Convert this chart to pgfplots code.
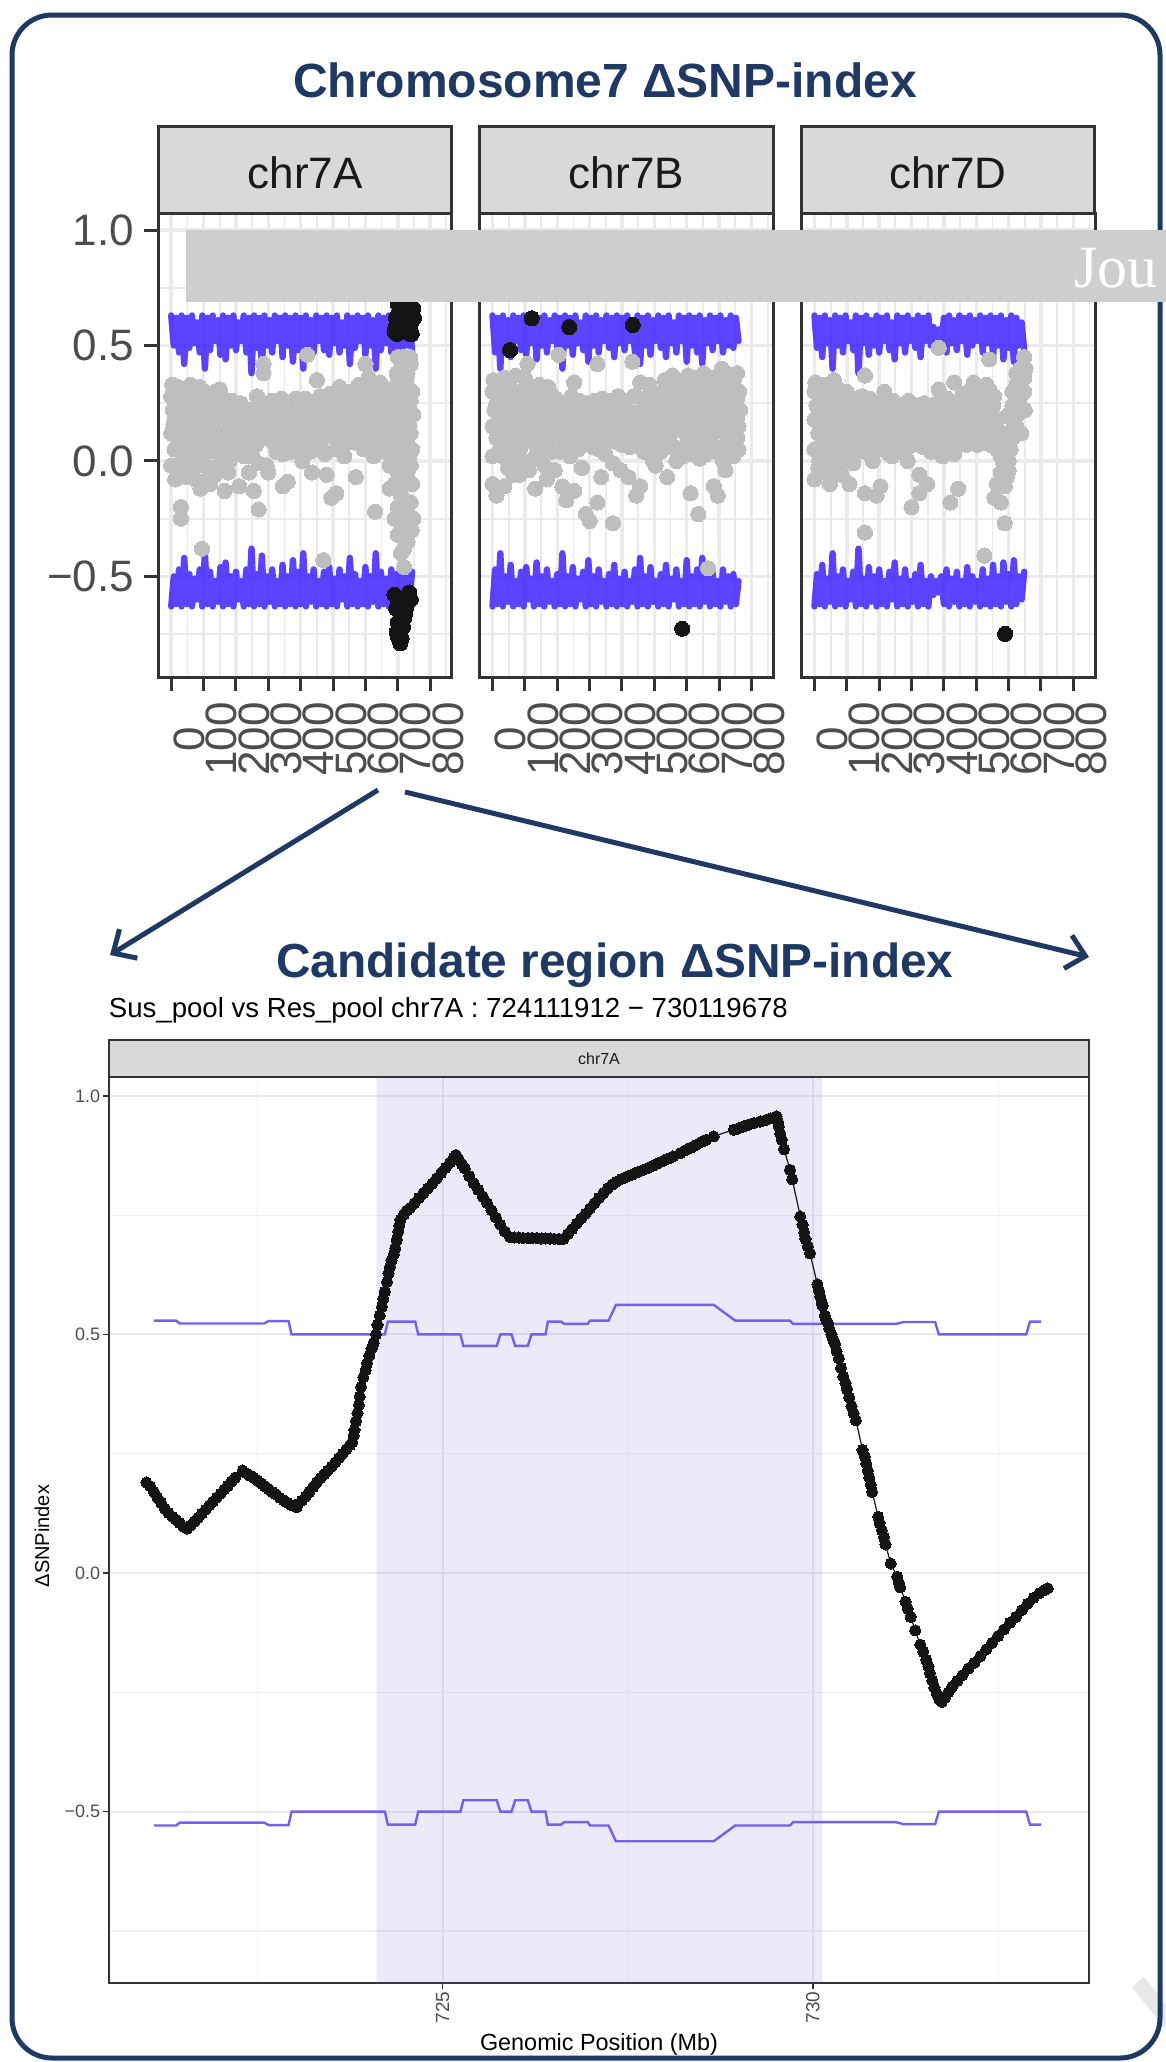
\documentclass[border=0pt]{standalone}
\usepackage{pgfplots}
\usepackage{pgfplotstable}
\pgfplotsset{compat=1.18}
\usepackage{fontspec}
\setmainfont{Liberation Sans}
\newfontfamily\jouserif{Liberation Serif}
\usetikzlibrary{arrows.meta}
\definecolor{navy}{RGB}{31,56,100}
\definecolor{tickgray}{RGB}{77,77,77}
\definecolor{gridgray}{RGB}{235,235,235}
\definecolor{stripgray}{RGB}{217,217,217}
\definecolor{bordercol}{RGB}{51,51,51}
\definecolor{ptgray}{RGB}{190,190,190}
\definecolor{ptblack}{RGB}{20,20,20}
\definecolor{bandblue}{RGB}{50,20,255}
\definecolor{thrcol}{RGB}{115,95,240}
\definecolor{shadecol}{RGB}{100,80,200}
\definecolor{bannergray}{RGB}{205,206,208}
\definecolor{wmgray}{RGB}{232,232,232}

% threshold band of each chromosome (upper side; lower side is its mirror)
\pgfplotstableread[row sep=\\]{x y\\
0 .63\\ 8 .50\\ 16 .62\\ 24 .47\\ 32 .63\\ 40 .42\\ 48 .62\\ 56 .49\\ 64 .63\\ 72 .51\\ 80 .60\\ 88 .47\\ 96 .63\\ 104 .40\\ 112 .62\\ 120 .48\\ 128 .63\\ 136 .52\\ 144 .61\\ 152 .46\\ 160 .63\\ 168 .44\\ 176 .62\\ 184 .50\\ 192 .63\\ 200 .48\\ 208 .60\\ 216 .52\\ 224 .63\\ 232 .47\\ 240 .62\\ 248 .38\\ 256 .63\\ 264 .49\\ 272 .62\\ 280 .41\\ 288 .63\\ 296 .50\\ 304 .61\\ 312 .47\\ 320 .63\\ 328 .52\\ 336 .62\\ 344 .45\\ 352 .63\\ 360 .50\\ 368 .62\\ 376 .43\\ 384 .63\\ 392 .48\\ 400 .62\\ 408 .40\\ 416 .63\\ 424 .50\\ 432 .61\\ 440 .47\\ 448 .63\\ 456 .52\\ 464 .62\\ 472 .48\\ 480 .63\\ 488 .46\\ 496 .62\\ 504 .51\\ 512 .63\\ 520 .47\\ 528 .60\\ 536 .50\\ 544 .63\\ 552 .42\\ 560 .62\\ 568 .49\\ 576 .63\\ 584 .52\\ 592 .62\\ 600 .46\\ 608 .63\\ 616 .50\\ 624 .61\\ 632 .40\\ 640 .63\\ 648 .48\\ 656 .62\\ 664 .51\\ 672 .63\\ 680 .47\\ 688 .62\\ 696 .49\\ 704 .63\\ 712 .45\\ 720 .62\\ 728 .50\\ 736 .60\\ 744 .48\\
}\bandA
\pgfplotstableread[row sep=\\]{x y\\
0 .63\\ 8 .47\\ 16 .62\\ 24 .40\\ 32 .63\\ 40 .50\\ 48 .61\\ 56 .45\\ 64 .63\\ 72 .52\\ 80 .62\\ 88 .48\\ 96 .63\\ 104 .46\\ 112 .60\\ 120 .51\\ 128 .63\\ 136 .44\\ 144 .62\\ 152 .50\\ 160 .63\\ 168 .47\\ 176 .61\\ 184 .52\\ 192 .63\\ 200 .49\\ 208 .62\\ 216 .40\\ 224 .63\\ 232 .50\\ 240 .62\\ 248 .46\\ 256 .63\\ 264 .51\\ 272 .60\\ 280 .48\\ 288 .63\\ 296 .43\\ 304 .62\\ 312 .50\\ 320 .63\\ 328 .47\\ 336 .61\\ 344 .52\\ 352 .63\\ 360 .49\\ 368 .62\\ 376 .45\\ 384 .63\\ 392 .51\\ 400 .62\\ 408 .48\\ 416 .63\\ 424 .52\\ 432 .61\\ 440 .47\\ 448 .63\\ 456 .42\\ 464 .62\\ 472 .50\\ 480 .63\\ 488 .46\\ 496 .61\\ 504 .52\\ 512 .63\\ 520 .49\\ 528 .62\\ 536 .45\\ 544 .63\\ 552 .51\\ 560 .60\\ 568 .47\\ 576 .63\\ 584 .52\\ 592 .62\\ 600 .43\\ 608 .63\\ 616 .50\\ 624 .62\\ 632 .47\\ 640 .63\\ 648 .42\\ 656 .61\\ 664 .51\\ 672 .63\\ 680 .48\\ 688 .62\\ 696 .52\\ 704 .63\\ 712 .47\\ 720 .61\\ 728 .50\\ 736 .63\\ 744 .49\\ 752 .62\\ 760 .52\\
}\bandB
\pgfplotstableread[row sep=\\]{x y\\
0 .63\\ 8 .49\\ 16 .62\\ 24 .45\\ 32 .63\\ 40 .51\\ 48 .61\\ 56 .40\\ 64 .63\\ 72 .50\\ 80 .62\\ 88 .47\\ 96 .63\\ 104 .52\\ 112 .60\\ 120 .48\\ 128 .63\\ 136 .38\\ 144 .62\\ 152 .51\\ 160 .63\\ 168 .46\\ 176 .61\\ 184 .50\\ 192 .63\\ 200 .47\\ 208 .62\\ 216 .52\\ 224 .63\\ 232 .48\\ 240 .60\\ 248 .44\\ 256 .63\\ 264 .51\\ 272 .62\\ 280 .47\\ 288 .63\\ 296 .52\\ 304 .61\\ 312 .49\\ 320 .63\\ 328 .45\\ 336 .62\\ 344 .52\\ 352 .63\\ 360 .50\\ 368 .58\\ 376 .52\\ 384 .57\\ 392 .50\\ 400 .62\\ 408 .47\\ 416 .63\\ 424 .51\\ 432 .61\\ 440 .48\\ 448 .63\\ 456 .52\\ 464 .62\\ 472 .46\\ 480 .63\\ 488 .50\\ 496 .61\\ 504 .52\\ 512 .63\\ 520 .47\\ 528 .62\\ 536 .51\\ 544 .63\\ 552 .45\\ 560 .62\\ 568 .50\\ 576 .63\\ 584 .44\\ 592 .61\\ 600 .49\\ 608 .63\\ 616 .43\\ 624 .62\\ 632 .50\\ 640 .60\\ 648 .48\\
}\bandD
% threshold of the candidate region (upper side; lower side is its mirror)
\pgfplotstableread[row sep=\\]{x y\\
721.10 0.529\\ 721.40 0.529\\ 721.45 0.523\\ 722.59 0.523\\ 722.65 0.528\\ 722.92 0.528\\ 722.96 0.500\\ 724.22 0.500\\ 724.26 0.527\\ 724.63 0.527\\ 724.67 0.500\\ 725.24 0.500\\ 725.28 0.476\\ 725.73 0.476\\ 725.78 0.500\\ 725.93 0.500\\ 725.98 0.476\\ 726.15 0.476\\ 726.20 0.500\\ 726.39 0.500\\ 726.42 0.527\\ 726.60 0.527\\ 726.64 0.522\\ 726.96 0.522\\ 726.99 0.529\\ 727.24 0.529\\ 727.34 0.562\\ 728.66 0.562\\ 728.95 0.529\\ 729.69 0.529\\ 729.73 0.522\\ 731.12 0.522\\ 731.22 0.526\\ 731.65 0.526\\ 731.70 0.500\\ 732.88 0.500\\ 732.93 0.527\\ 733.08 0.527\\
}\thr

\pgfplotsset{
  toppanel/.style={
    scale only axis, width=146.75pt, height=232pt, anchor=south west,
    xmin=-40, xmax=867, ymin=-0.936, ymax=1.074,
    axis line style={draw=bordercol, line width=1.5pt},
    xtick={0,100,...,800}, minor xtick={50,150,...,850},
    ytick={-0.5,0,0.5,1}, minor ytick={-0.75,-0.25,0.25,0.75},
    grid=both,
    major grid style={draw=gridgray, line width=1.75pt},
    minor grid style={draw=gridgray, line width=0.9pt},
    tick align=outside, xtick pos=left, ytick pos=left,
    major tick length=7pt, minor tick length=0pt,
    tick style={draw=bordercol, line width=1.5pt},
    xticklabels={0,100,200,300,400,500,600,700,800},
    xticklabel style={font=\fontsize{22pt}{22pt}\selectfont, text=tickgray, inner sep=0pt, anchor=center, xshift=9pt, yshift=-24pt, rotate=90},
    yticklabel style={font=\fontsize{22pt}{22pt}\selectfont, text=tickgray, inner sep=0pt, xshift=-5pt},
  },
  graypts/.style={only marks, color=ptgray, mark=*, mark size=3.8pt, mark options={draw=ptgray, fill=ptgray, line width=0pt}},
  blackpts/.style={only marks, color=ptblack, mark=*, mark size=3.8pt, mark options={draw=ptblack, fill=ptblack, line width=0pt}},
  band/.style={draw=bandblue, draw opacity=0.8, line width=3.2pt, line join=round, line cap=round},
}

\begin{document}
\begin{tikzpicture}
\path[use as bounding box] (0,0) rectangle (583pt,-1031pt);
\begin{scope}[x=0.5pt,y=-0.5pt]
  \draw[line width=8pt, color=wmgray] (1138,1982) -- (1178,2032);
  \draw[navy, line width=2.5pt, rounded corners=20pt] (12,15) rectangle (1160,2058);
  \node[anchor=base, text=navy, font=\bfseries\fontsize{24pt}{24pt}\selectfont] at (605,97) {Chromosome7 ΔSNP-index};
  \foreach \xa/\lab in {158.3/chr7A, 479.6/chr7B, 801/chr7D} {
    \draw[fill=stripgray, draw=bordercol, line width=1.5pt] (\xa,126) rectangle ({\xa+293.5},213);
    \node[anchor=base, text=black!90, font=\fontsize{22pt}{22pt}\selectfont] at ({\xa+146.75},188) {\lab};
  }
\end{scope}

% ---------- chr7A ----------
\begin{axis}[toppanel, at={(79.15pt,-338.5pt)},
  yticklabels={−0.5,0.0,0.5,1.0}]
\addplot[graypts] coordinates {(0,.28)(0,.12)(0,-.02)(5,.22)(10,.31)(10,.18)(10,.05)(15,.05)(20,.22)(20,.10)(20,-.06)(25,.26)(30,.30)(30,.15)(30,-.20)(30,-.25)(38,.20)(45,.26)(45,.08)(45,-.03)(52,.14)(60,.33)(60,.20)(60,.02)(68,.09)(75,.24)(75,.13)(75,-.08)(82,.19)(90,.29)(90,.06)(90,-.12)(98,.23)(105,.21)(105,.15)(105,-.02)(112,.04)(120,.27)(120,.10)(120,-.10)(128,.16)(135,.18)(135,.04)(135,-.06)(142,.24)(150,.25)(150,.12)(150,.31)(158,.02)(165,.20)(165,.07)(165,-.13)(172,.11)(180,.16)(180,.22)(180,.00)(188,.26)(195,.12)(195,.19)(195,.05)(210,.17)(210,.09)(210,-.11)(225,.14)(225,.21)(225,.02)(240,.18)(240,.11)(240,-.05)(255,.20)(255,.13)(255,-.13)(270,.24)(270,.15)(270,-.21)(270,-.01)(285,.19)(285,.10)(285,.38)(285,.42)(300,.17)(300,.23)(300,-.05)(315,.14)(315,.20)(315,.08)(330,.18)(330,.12)(345,.15)(345,.21)(345,.03)(345,-.11)(360,.13)(360,.19)(360,-.09)(375,.16)(375,.10)(390,.20)(390,.14)(390,.06)(405,.12)(405,.18)(405,.00)(420,.15)(420,.22)(420,.46)(435,.10)(435,.17)(435,-.05)(450,.19)(450,.13)(450,.35)(465,.16)(465,.24)(465,.06)(480,.12)(480,.20)(480,-.06)(495,.18)(495,.26)(495,-.16)(510,.14)(510,.22)(510,.05)(510,-.14)(525,.20)(525,.27)(525,.11)(540,.16)(540,.24)(540,.08)(555,.21)(555,.30)(555,.12)(570,.18)(570,.25)(570,-.07)(585,.15)(585,.22)(585,.09)(600,.20)(600,.28)(600,.13)(600,.42)(615,.17)(615,.32)(615,.10)(630,.21)(630,.26)(630,.07)(630,-.22)(645,.18)(645,.34)(645,.12)(660,.22)(660,.15)(660,.04)(675,.25)(675,.17)(675,-.02)(675,-.12)(690,.20)(690,.30)(690,.05)(690,-.10)(690,-.25)(700,.45)(700,.35)(700,.25)(700,.10)(700,-.05)(700,-.20)(700,-.32)(705,.32)(705,-.12)(710,.40)(710,.28)(710,.15)(710,.00)(710,-.15)(710,-.30)(710,-.40)(715,.22)(715,-.05)(720,.44)(720,.30)(720,.18)(720,.05)(720,-.10)(720,-.25)(720,-.38)(720,-.46)(725,.12)(725,-.30)(730,.38)(730,.22)(730,.08)(730,-.05)(730,-.20)(730,-.35)(735,.02)(735,-.28)(740,.42)(740,.26)(740,.12)(740,-.02)(740,-.18)(745,.30)(745,.05)(745,-.10)(748,.20)(748,-.25)(95,-.38)(470,-.43)
(7,.16)(17,.26)(27,.08)(37,.02)(42,.30)(55,.24)(65,-.04)(72,.28)(85,.01)(95,.15)(102,.30)(115,.21)(125,-.03)(132,.26)(145,.09)(155,.19)(162,.27)(176,-.05)(185,.14)(200,.24)(205,.03)(218,.16)(232,.08)(247,.22)(262,.07)(278,.20)(292,.15)(308,.10)(322,.24)(338,.16)(352,.09)(368,.22)(382,.13)(398,.23)(412,.08)(428,.19)(442,.25)(458,.09)(472,.17)(488,.14)(502,.21)(518,.17)(532,.22)(548,.19)(562,.16)(578,.29)(592,.18)(608,.24)(622,.15)(638,.22)(652,.27)(668,.20)(682,.12)(695,.15)(703,.00)(713,.35)(723,-.18)(733,.30)(743,-.30)(736,.15)(715,.10)
(3,.33)(12,-.08)(22,.32)(33,.10)(48,-.07)(58,.29)(70,.18)(80,-.02)(88,.32)(100,.09)(110,.25)(118,-.06)(138,.30)(148,-.01)(168,.24)(190,.09)(215,.25)(235,.14)(250,.02)(265,.28)(280,.12)(295,-.02)(310,.26)(325,.04)(340,.27)(355,.18)(370,.04)(385,.27)(400,.07)(415,.27)(430,.04)(445,.20)(460,.28)(475,.03)(490,.29)(505,.10)(520,.32)(535,.02)(550,.26)(565,.08)(580,.33)(595,.05)(610,.36)(625,.02)(640,.29)(655,.09)(670,.31)(685,.24)(697,.38)(706,.20)(716,.45)(726,.35)(738,.45)};
\addplot[blackpts] coordinates {(690,.56)(695,.62)(700,.68)(705,.72)(708,.60)(710,.78)(715,.85)(718,.66)(720,.90)(725,.93)(728,.62)(730,.95)(735,.90)(738,.55)(740,.82)(742,.60)(745,.74)(748,.66)(693,.58)(698,.55)(703,.64)(713,.70)(723,.58)(733,.68)(743,.55)(750,.62)
(690,-.58)(695,-.64)(700,-.70)(700,-.60)(705,-.76)(708,-.79)(710,-.66)(712,-.77)(716,-.72)(720,-.68)(725,-.64)(730,-.60)(735,-.57)(703,-.62)(713,-.70)(718,-.60)(723,-.66)(706,-.70)(700,-.76)(740,-.60)(697,-.74)};
\addplot[band] table {\bandA};
\addplot[band] table[y expr=-\thisrow{y}] {\bandA};
\end{axis}

% ---------- chr7B ----------
\begin{axis}[toppanel, at={(239.8pt,-338.5pt)}, yticklabels={}, ytick style={draw=none}]
\addplot[graypts] coordinates {(0,.30)(0,.15)(0,.02)(0,-.10)(12,.25)(12,.10)(12,-.15)(24,.33)(24,.18)(24,.05)(36,.22)(36,.12)(36,-.11)(36,.36)(48,.28)(48,.08)(48,-.03)(60,.20)(60,.16)(60,.02)(72,.26)(72,.11)(72,.37)(84,.18)(84,.05)(84,-.06)(96,.24)(96,.14)(96,.31)(108,.30)(108,.09)(108,.42)(120,.21)(120,.16)(120,.00)(132,.27)(132,.12)(132,-.12)(144,.19)(144,.07)(144,.33)(156,.23)(156,.15)(156,.03)(168,.17)(168,.10)(168,-.08)(180,.22)(180,.13)(180,.29)(192,.15)(192,.19)(192,-.04)(204,.20)(204,.11)(204,.46)(216,.14)(216,.18)(216,-.11)(228,.19)(228,.09)(228,-.17)(240,.16)(240,.22)(240,.02)(252,.12)(252,.18)(252,.34)(252,-.13)(264,.17)(264,.10)(264,.05)(276,.14)(276,.21)(276,-.03)(288,.18)(288,.12)(288,-.23)(300,.15)(300,.20)(300,-.26)(312,.13)(312,.17)(312,.06)(324,.16)(324,.11)(324,.42)(324,-.18)(336,.20)(336,.14)(336,-.07)(348,.17)(348,.12)(348,.03)(360,.14)(360,.19)(360,.26)(372,.18)(372,.10)(372,-.01)(372,-.27)(384,.15)(384,.22)(384,.08)(396,.19)(396,.13)(396,-.04)(408,.16)(408,.11)(408,.21)(420,.20)(420,.14)(420,-.07)(432,.17)(432,.12)(432,.43)(444,.13)(444,.18)(444,-.15)(456,.18)(456,.10)(456,.34)(456,-.11)(468,.15)(468,.21)(468,.04)(480,.19)(480,.12)(480,.27)(492,.16)(492,.23)(492,.06)(504,.20)(504,.13)(504,-.02)(516,.17)(516,.25)(516,.09)(528,.21)(528,.14)(528,.30)(540,.18)(540,.24)(540,-.07)(552,.22)(552,.12)(552,.31)(564,.17)(564,.26)(564,.06)(576,.21)(576,.14)(576,.28)(588,.16)(588,.23)(588,.02)(600,.20)(600,.30)(600,.11)(600,.34)(612,.17)(612,.25)(612,-.14)(624,.22)(624,.13)(624,.29)(636,.18)(636,.27)(636,.05)(636,-.23)(648,.21)(648,.12)(648,.32)(660,.16)(660,.25)(660,.03)(672,.20)(672,.29)(672,.10)(684,.17)(684,.24)(684,.33)(684,-.11)(696,.22)(696,.13)(696,.28)(696,-.15)(708,.18)(708,.26)(708,.06)(708,.40)(720,.21)(720,.31)(720,.12)(720,-.04)(732,.17)(732,.25)(732,.35)(744,.22)(744,.14)(744,.29)(744,.02)(756,.19)(756,.27)(756,.10)(756,.38)(666,-.465)
(6,.22)(18,.20)(30,.12)(42,.17)(54,.24)(66,.09)(78,.18)(90,.27)(102,.15)(114,.20)(126,.08)(138,.22)(150,.14)(162,.26)(174,.06)(186,.17)(198,.14)(210,.22)(222,.12)(234,.15)(246,.09)(258,.14)(270,.19)(282,.15)(294,.12)(306,.17)(318,.14)(330,.20)(342,.10)(354,.16)(366,.13)(378,.17)(390,.15)(402,.20)(414,.13)(426,.16)(438,.21)(450,.15)(462,.11)(474,.17)(486,.19)(498,.14)(510,.22)(522,.18)(534,.11)(546,.20)(558,.27)(570,.17)(582,.24)(594,.13)(606,.22)(618,.19)(630,.08)(642,.24)(654,.18)(666,.22)(678,.14)(690,.20)(702,.16)(714,.23)(726,.19)(738,.09)(750,.22)(760,.15)(762,.30)
(3,.35)(15,.03)(27,.27)(40,.01)(52,.32)(64,-.06)(76,.29)(88,.00)(100,.36)(112,-.04)(124,.31)(136,.03)(148,.27)(160,-.02)(172,.32)(184,.04)(196,.27)(208,.04)(220,.25)(232,.06)(244,.28)(256,.05)(268,.26)(280,.08)(292,.25)(304,.07)(316,.26)(328,.05)(340,.27)(352,.08)(364,.23)(376,.09)(388,.28)(400,.07)(412,.26)(424,.06)(436,.28)(448,.08)(460,.27)(472,.09)(484,.33)(496,.00)(508,.29)(520,.04)(532,.35)(544,.06)(556,.37)(568,.00)(580,.34)(592,.06)(604,.37)(616,.03)(628,.36)(640,.01)(652,.38)(664,.06)(676,.36)(688,.04)(700,.34)(712,.00)(724,.38)(736,.03)(748,.36)(760,.05)(765,.22)};
\addplot[blackpts] coordinates {(121,.618)(54,.48)(237,.58)(433,.589)(586,-.727)};
\addplot[band] table {\bandB};
\addplot[band] table[y expr=-\thisrow{y}] {\bandB};
\end{axis}

% ---------- chr7D ----------
\begin{axis}[toppanel, at={(400.75pt,-338.5pt)}, yticklabels={}, ytick style={draw=none}]
\addplot[graypts] coordinates {(0,.30)(0,.18)(0,.05)(0,-.08)(12,.25)(12,.12)(12,-.03)(24,.33)(24,.20)(24,.08)(36,.22)(36,.14)(36,.00)(48,.28)(48,.10)(48,-.10)(60,.35)(60,.19)(60,.05)(60,.01)(72,.24)(72,.15)(72,-.02)(84,.29)(84,.11)(84,-.06)(96,.21)(96,.17)(96,.03)(108,.26)(108,.08)(108,-.10)(120,.19)(120,.14)(120,-.01)(132,.23)(132,.10)(132,.04)(144,.17)(144,.20)(144,.07)(156,.21)(156,.13)(156,.37)(156,-.14)(156,-.31)(168,.15)(168,.18)(168,.03)(180,.20)(180,.11)(180,.00)(192,.17)(192,.08)(192,-.15)(204,.22)(204,.14)(204,-.11)(216,.18)(216,.10)(216,.30)(228,.15)(228,.19)(228,.06)(240,.20)(240,.12)(240,.02)(252,.17)(252,.09)(252,.24)(264,.14)(264,.19)(264,.05)(276,.18)(276,.11)(276,.08)(288,.15)(288,.21)(288,.00)(300,.19)(300,.13)(300,-.20)(312,.16)(312,.10)(312,.22)(324,.14)(324,.18)(324,-.06)(324,-.14)(336,.19)(336,.12)(336,.06)(348,.16)(348,.22)(348,-.10)(360,.13)(360,.18)(360,.04)(372,.17)(372,.10)(372,.08)(384,.14)(384,.20)(384,.49)(384,.31)(396,.18)(396,.12)(396,.02)(408,.15)(408,.22)(408,.07)(420,.19)(420,.11)(420,-.18)(432,.16)(432,.20)(432,.34)(432,.03)(444,.13)(444,.18)(444,-.12)(456,.17)(456,.24)(456,.09)(468,.20)(468,.14)(468,.26)(480,.16)(480,.23)(480,.08)(492,.21)(492,.13)(492,.34)(504,.18)(504,.26)(504,.07)(516,.22)(516,.15)(516,.29)(528,.18)(528,.26)(528,.11)(540,.21)(540,.31)(540,.44)(540,.14)(552,.17)(552,.24)(552,.08)(564,.14)(564,.05)(564,-.10)(576,.10)(576,.02)(576,-.18)(576,-.05)(588,.08)(588,-.02)(588,-.11)(588,-.27)(600,.12)(600,.00)(600,-.04)(600,.20)(612,.18)(612,.24)(612,.30)(612,.10)(624,.26)(624,.33)(624,.38)(624,.15)(636,.32)(636,.40)(636,.22)(636,.28)(648,.36)(648,.45)(648,.30)(525,-.41)(556,-.16)
(6,.24)(18,.15)(30,.26)(42,.06)(54,.22)(66,.11)(78,.20)(90,.02)(102,.24)(114,.13)(126,.18)(138,.12)(150,.24)(162,.09)(174,.15)(186,.18)(198,.12)(210,.16)(222,.13)(234,.17)(246,.15)(258,.13)(270,.16)(282,.14)(294,.17)(306,.15)(318,.13)(330,.16)(342,.14)(354,.17)(366,.15)(378,.13)(390,.16)(402,.18)(414,.15)(426,.14)(438,.17)(450,.20)(462,.18)(474,.21)(486,.17)(498,.20)(510,.19)(522,.22)(534,.20)(546,.17)(558,.12)(570,.05)(582,.00)(594,-.07)(606,.05)(618,.20)(630,.30)(642,.35)(652,.40)
(3,.34)(15,.00)(27,.30)(39,-.05)(51,.32)(63,-.04)(75,.31)(87,.05)(99,.30)(111,.01)(123,.27)(135,.05)(147,.28)(159,.04)(171,.27)(183,.06)(195,.25)(207,.05)(219,.22)(231,.03)(243,.26)(255,.06)(267,.23)(279,.04)(291,.26)(303,.07)(315,.24)(327,.08)(339,.25)(351,.07)(363,.24)(375,.05)(387,.26)(399,.08)(411,.27)(423,.05)(435,.25)(447,.09)(459,.29)(471,.07)(483,.31)(495,.10)(507,.30)(519,.08)(531,.33)(543,.07)(555,.28)(567,.18)(579,.10)(591,.05)(603,.08)(615,.15)(627,.20)(639,.12)(650,.22)};
\addplot[blackpts] coordinates {(589,-.749)};
\addplot[band] table {\bandD};
\addplot[band] table[y expr=-\thisrow{y}] {\bandD};
\end{axis}

% ---------- candidate region ----------
\begin{axis}[at={(54.3pt,-991.5pt)}, anchor=south west,
  scale only axis, width=490.3pt, height=453.15pt,
  xmin=720.49, xmax=733.73, ymin=-0.859, ymax=1.04,
  axis line style={draw=bordercol, line width=1pt},
  xtick={725,730}, minor xtick={722.5,727.5,732.5},
  ytick={-0.5,0,0.5,1}, minor ytick={-0.75,-0.25,0.25,0.75},
  grid=both,
  major grid style={draw=gridgray, line width=1pt},
  minor grid style={draw=gridgray!70, line width=0.6pt},
  tick align=outside, xtick pos=left, ytick pos=left,
  major tick length=3pt, minor tick length=0pt,
  tick style={draw=bordercol, line width=0.8pt},
  xticklabels={725,730}, yticklabels={−0.5,0.0,0.5,1.0},
  xticklabel style={font=\fontsize{9.5pt}{9.5pt}\selectfont, text=tickgray, rotate=90, anchor=east, inner sep=1pt},
  yticklabel style={font=\fontsize{9pt}{9pt}\selectfont, text=tickgray, inner sep=1pt},
]
\addplot[fill=shadecol, fill opacity=0.12, draw=none] coordinates {(724.11,-1) (730.12,-1) (730.12,1.2) (724.11,1.2) (724.11,-1)};
\addplot[draw=thrcol, line width=1.2pt] table {\thr};
\addplot[draw=thrcol, line width=1.2pt] table[y expr=-\thisrow{y}] {\thr};
\addplot[color=ptblack, line width=0.6pt, mark=*, mark size=2.8pt, mark options={draw=ptblack, fill=ptblack, line width=0pt}] coordinates {
(721.00,0.190)(721.05,0.182)(721.10,0.170)(721.15,0.158)(721.20,0.147)(721.25,0.135)(721.30,0.126)(721.35,0.118)(721.40,0.112)(721.45,0.105)(721.50,0.097)(721.55,0.093)
(721.60,0.100)(721.65,0.108)(721.70,0.116)(721.75,0.125)(721.80,0.133)(721.85,0.142)(721.90,0.150)(721.95,0.158)(722.00,0.166)(722.05,0.175)(722.10,0.183)(722.15,0.192)(722.20,0.200)(722.30,0.215)
(722.35,0.209)(722.40,0.204)(722.45,0.200)(722.50,0.194)(722.55,0.188)(722.60,0.182)(722.65,0.176)(722.70,0.170)(722.75,0.165)(722.80,0.158)(722.85,0.153)(722.90,0.148)(722.95,0.143)(723.00,0.140)(723.03,0.138)
(723.05,0.145)(723.10,0.152)(723.15,0.160)(723.20,0.170)(723.25,0.180)(723.30,0.190)(723.35,0.199)(723.40,0.207)(723.45,0.215)(723.50,0.223)(723.55,0.232)(723.60,0.241)(723.65,0.250)(723.70,0.259)(723.75,0.268)(723.78,0.274)
(723.80,0.288)(723.81,0.300)(723.83,0.318)(723.85,0.335)(723.87,0.352)(723.88,0.370)(723.90,0.390)(723.93,0.410)(723.96,0.425)(723.98,0.440)(724.01,0.455)(724.04,0.470)(724.07,0.482)(724.10,0.500)(724.12,0.520)(724.15,0.540)(724.18,0.558)(724.20,0.575)(724.22,0.590)(724.25,0.610)(724.27,0.628)(724.29,0.642)(724.31,0.655)(724.34,0.668)(724.36,0.681)(724.38,0.698)(724.40,0.715)(724.415,0.728)(724.43,0.740)
(724.48,0.752)(724.52,0.760)(724.56,0.765)(724.62,0.775)(724.68,0.786)(724.74,0.796)(724.80,0.806)(724.86,0.816)(724.92,0.827)(724.98,0.838)(725.04,0.849)(725.10,0.860)(725.15,0.870)(725.18,0.876)
(725.22,0.866)(725.26,0.857)(725.30,0.848)(725.36,0.832)(725.42,0.817)(725.48,0.803)(725.54,0.789)(725.60,0.775)(725.66,0.760)(725.72,0.745)(725.78,0.730)(725.84,0.716)(725.91,0.704)
(725.97,0.703)(726.03,0.703)(726.09,0.702)(726.15,0.702)(726.21,0.702)(726.27,0.702)(726.33,0.701)(726.39,0.701)(726.45,0.701)(726.51,0.700)(726.57,0.700)(726.63,0.700)
(726.69,0.710)(726.75,0.721)(726.81,0.732)(726.87,0.743)(726.93,0.753)(726.99,0.764)(727.05,0.775)(727.11,0.786)(727.17,0.796)(727.23,0.806)(727.29,0.814)(727.35,0.820)
(727.42,0.826)(727.49,0.831)(727.56,0.835)(727.63,0.840)(727.70,0.844)(727.76,0.848)(727.83,0.853)(727.90,0.858)(727.97,0.863)(728.04,0.868)(728.11,0.873)(728.21,0.880)
(728.28,0.886)(728.35,0.891)(728.42,0.897)(728.49,0.903)(728.56,0.908)(728.66,0.915)
(728.93,0.929)(728.98,0.931)(729.05,0.935)(729.12,0.939)(729.20,0.943)(729.29,0.946)(729.36,0.949)(729.43,0.953)(729.51,0.957)
(729.53,0.945)(729.54,0.935)(729.56,0.920)(729.58,0.908)(729.61,0.888)(729.69,0.845)(729.72,0.825)(729.83,0.747)(729.86,0.730)(729.88,0.714)(729.90,0.700)(729.93,0.685)(729.96,0.670)(730.06,0.605)(730.08,0.592)(730.10,0.579)(730.12,0.567)(730.13,0.560)(730.16,0.540)(730.18,0.530)
(730.20,0.525)(730.22,0.512)(730.25,0.500)(730.27,0.490)(730.30,0.480)(730.32,0.465)(730.35,0.450)(730.38,0.430)(730.41,0.412)(730.44,0.398)(730.46,0.385)(730.49,0.368)(730.52,0.350)(730.55,0.335)(730.58,0.320)(730.67,0.258)(730.70,0.245)(730.72,0.230)(730.74,0.215)(730.76,0.200)(730.78,0.185)(730.80,0.170)(730.88,0.118)(730.90,0.105)(730.93,0.090)(730.96,0.075)(730.98,0.060)(731.05,0.020)(731.14,-0.008)(731.16,-0.020)(731.18,-0.030)(731.25,-0.060)(731.28,-0.075)(731.32,-0.092)(731.38,-0.120)(731.45,-0.150)(731.49,-0.165)(731.53,-0.182)(731.56,-0.196)(731.58,-0.210)(731.61,-0.225)(731.64,-0.240)(731.67,-0.252)(731.70,-0.262)(731.72,-0.266)(731.74,-0.270)
(731.78,-0.262)(731.83,-0.250)(731.88,-0.238)(731.95,-0.226)(732.02,-0.214)(732.10,-0.200)(732.18,-0.188)(732.26,-0.174)(732.34,-0.160)(732.42,-0.146)(732.50,-0.132)(732.58,-0.118)(732.66,-0.104)(732.74,-0.092)(732.82,-0.078)(732.90,-0.064)(732.98,-0.052)(733.06,-0.042)(733.12,-0.036)(733.17,-0.032)
};
\end{axis}

\begin{scope}[x=0.5pt,y=-0.5pt]
  % overlay banner
  \fill[bannergray] (186,230) rectangle (1170,302);
  \node[anchor=base west, inner sep=0pt, text=white, font=\jouserif\fontsize{30pt}{30pt}\selectfont] at (1074,287) {Jou};
  % arrows
  \draw[navy, line width=2.5pt, -{Straight Barb[length=9pt,width=17pt]}] (378,790) -- (110,955);
  \draw[navy, line width=2.5pt, -{Straight Barb[length=9pt,width=17pt]}] (405,792) -- (1089,957);
  % candidate region titles and strip
  \node[anchor=base, text=navy, font=\bfseries\fontsize{23.9pt}{23.9pt}\selectfont] at (615,977) {Candidate region ΔSNP-index};
  \node[anchor=base west, inner sep=0pt, font=\fontsize{13.8pt}{13.8pt}\selectfont] at (108.5,1017) {Sus\_pool vs Res\_pool chr7A : 724111912 − 730119678};
  \draw[fill=stripgray, draw=bordercol, line width=1pt] (108.6,1040) rectangle (1089.2,1076.7);
  \node[anchor=base, text=black!90, font=\fontsize{8pt}{8pt}\selectfont] at (599,1064) {chr7A};
  \node[rotate=90, font=\fontsize{10pt}{10pt}\selectfont] at (42,1536) {ΔSNPindex};
  \node[anchor=base, font=\fontsize{11.7pt}{11.7pt}\selectfont] at (599,2050) {Genomic Position (Mb)};
\end{scope}
\end{tikzpicture}
\end{document}
